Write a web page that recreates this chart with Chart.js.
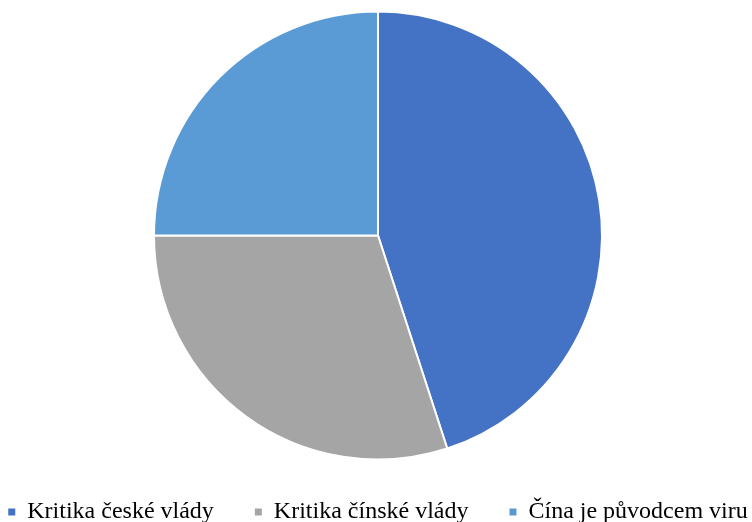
<!DOCTYPE html>
<html>
<head>
<meta charset="utf-8">
<script src="https://cdn.jsdelivr.net/npm/chart.js@4/dist/chart.umd.min.js"></script>
<style>
  html, body { margin: 0; padding: 0; background: #fff; }
  #wrap { width: 752px; height: 522px; }
</style>
</head>
<body>
<div id="wrap"><canvas id="pie"></canvas></div>
<script>
const labels = ['Kritika české vlády', 'Kritika čínské vlády', 'Čína je původcem viru'];
const values = [45, 30, 25];
const colors = ['#4472C4', '#A5A5A5', '#5B9BD5'];

// one wide legend row with large gaps, but a short legend box
const legendFit = {
  id: 'legendFit',
  beforeInit(chart) {
    const legend = chart.legend;
    const fit = legend.fit;
    legend.fit = function () {
      const mw = this.maxWidth;
      this.maxWidth = 2000;
      fit.call(this);
      this.maxWidth = mw;
      this.width = mw;
      this.height = 63;
    };
    const draw = legend.draw;
    legend.draw = function () {
      // widen both sides equally so the row stays centred and does not wrap
      const l = this.left, r = this.right;
      this.left = l - 150;
      this.right = r + 150;
      draw.call(this);
      this.left = l;
      this.right = r;
    };
  }
};

new Chart(document.getElementById('pie'), {
  type: 'pie',
  data: {
    labels: labels,
    datasets: [{
      data: values,
      backgroundColor: colors,
      borderColor: '#ffffff',
      borderWidth: 2
    }]
  },
  options: {
    responsive: true,
    maintainAspectRatio: false,
    animation: false,
    radius: 224,
    layout: { padding: { top: 12, left: 4, bottom: 0 } },
    plugins: {
      tooltip: { enabled: false },
      legend: {
        position: 'bottom',
        labels: {
          boxWidth: 7,
          boxHeight: 7,
          padding: 41,
          color: '#000',
          font: { family: '"Liberation Serif", "Times New Roman", serif', size: 24 },
          generateLabels(chart) {
            const items = Chart.overrides.pie.plugins.legend.labels.generateLabels(chart);
            items.forEach(it => { it.lineWidth = 0; it.strokeStyle = it.fillStyle; });
            return items;
          }
        }
      }
    }
  },
  plugins: [legendFit]
});
</script>
</body>
</html>
